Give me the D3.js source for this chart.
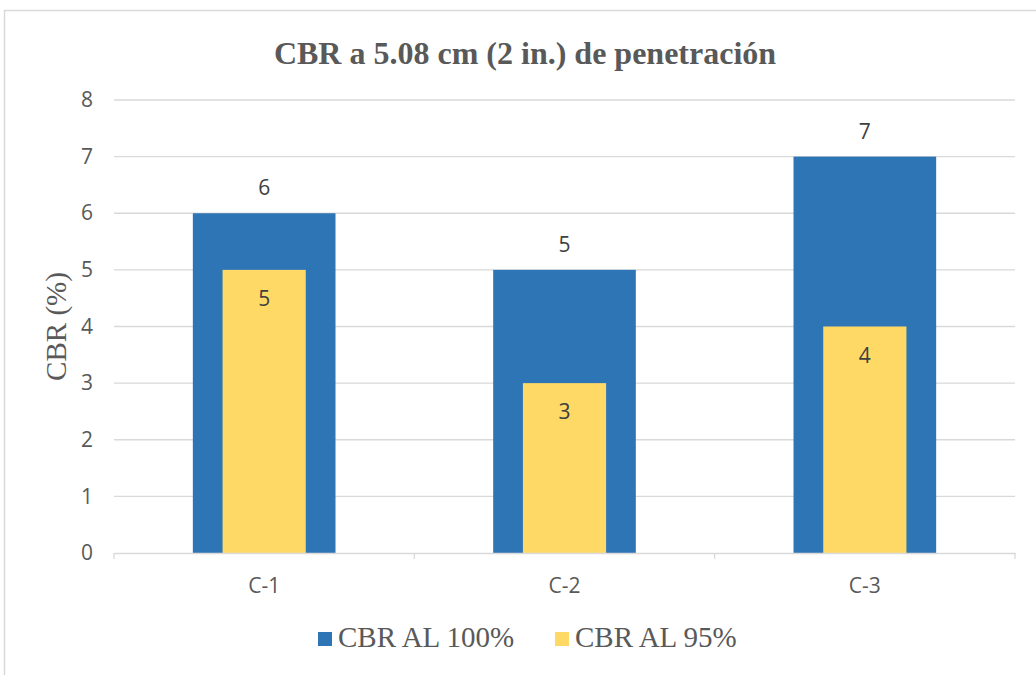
<!DOCTYPE html>
<html>
<head>
<meta charset="utf-8">
<script src="https://cdn.jsdelivr.net/npm/d3@7"></script>
<style>
  body { margin: 0; background: #fff; }
  svg { display: block; }
</style>
</head>
<body>
<svg id="chart"></svg>
<script>
const width = 1036;
const height = 675;

// data
const categories = ["C-1", "C-2", "C-3"];
const cbr100 = [6, 5, 7];
const cbr95 = [5, 3, 4];
const seriesNames = ["CBR AL 100%", "CBR AL 95%"];
const yTicks = [0, 1, 2, 3, 4, 5, 6, 7, 8];

const colors = ["#2E75B6", "#FFD966"];
const textColor = "#595959";
const sansFont = "'Open Sans', 'Liberation Sans', sans-serif";
const serifFont = "'Liberation Serif', 'Times New Roman', serif";

const margin = { left: 114, right: 1015, top: 100, bottom: 553 };

const svg = d3.select("#chart")
    .attr("width", width)
    .attr("height", height);

// chart frame
svg.append("rect")
    .attr("x", 4.5)
    .attr("y", 10.5)
    .attr("width", width + 10)
    .attr("height", height + 10)
    .attr("fill", "none")
    .attr("stroke", "#d9d9d9")
    .attr("stroke-width", 1.5);

const x = d3.scaleBand()
    .domain(categories)
    .range([margin.left, margin.right])
    .padding(0);

const y = d3.scaleLinear()
    .domain([0, 8])
    .range([margin.bottom, margin.top]);

// gridlines
svg.append("g")
    .selectAll("line")
    .data(yTicks.filter(d => d > 0))
    .enter()
    .append("line")
    .attr("x1", margin.left)
    .attr("x2", margin.right)
    .attr("y1", d => y(d))
    .attr("y2", d => y(d))
    .attr("stroke", "#d9d9d9")
    .attr("stroke-width", 1.3);

// y axis labels
const yAxis = d3.axisLeft(y).tickValues(yTicks).tickSize(0).tickPadding(0);
const gy = svg.append("g")
    .attr("transform", `translate(${margin.left - 21}, 0)`)
    .call(yAxis);
gy.select(".domain").remove();
gy.selectAll("text")
    .attr("font-family", sansFont)
    .attr("font-size", 21)
    .attr("fill", textColor);

// bars
const outerW = x.bandwidth() * 0.475;
const innerW = x.bandwidth() * 0.277;

svg.append("g")
    .selectAll("rect")
    .data(categories)
    .enter()
    .append("rect")
    .attr("x", d => x(d) + (x.bandwidth() - outerW) / 2)
    .attr("width", outerW)
    .attr("y", (d, i) => y(cbr100[i]))
    .attr("height", (d, i) => y(0) - y(cbr100[i]))
    .attr("fill", colors[0]);

svg.append("g")
    .selectAll("rect")
    .data(categories)
    .enter()
    .append("rect")
    .attr("x", d => x(d) + (x.bandwidth() - innerW) / 2)
    .attr("width", innerW)
    .attr("y", (d, i) => y(cbr95[i]))
    .attr("height", (d, i) => y(0) - y(cbr95[i]))
    .attr("fill", colors[1]);

// data labels
svg.append("g")
    .selectAll("text")
    .data(categories)
    .enter()
    .append("text")
    .attr("x", d => x(d) + x.bandwidth() / 2)
    .attr("y", (d, i) => y(cbr100[i]) - 18)
    .attr("text-anchor", "middle")
    .attr("font-family", sansFont)
    .attr("font-size", 21)
    .attr("fill", "#404040")
    .text((d, i) => cbr100[i]);

svg.append("g")
    .selectAll("text")
    .data(categories)
    .enter()
    .append("text")
    .attr("x", d => x(d) + x.bandwidth() / 2)
    .attr("y", (d, i) => y(cbr95[i]) + 36)
    .attr("text-anchor", "middle")
    .attr("font-family", sansFont)
    .attr("font-size", 21)
    .attr("fill", "#404040")
    .text((d, i) => cbr95[i]);

// x axis
const xAxis = d3.axisBottom(x).tickSize(0).tickPadding(25);
const gx = svg.append("g")
    .attr("transform", `translate(0, ${margin.bottom})`)
    .call(xAxis);
gx.select(".domain").attr("stroke", "#d9d9d9").attr("stroke-width", 1.3);
gx.selectAll("text")
    .attr("font-family", sansFont)
    .attr("font-size", 21)
    .attr("fill", textColor);

// category separators
const seps = categories.map(d => x(d)).concat([margin.right]);
gx.selectAll(".sep")
    .data(seps)
    .enter()
    .append("line")
    .attr("class", "sep")
    .attr("x1", d => d)
    .attr("x2", d => d)
    .attr("y1", 0)
    .attr("y2", 6)
    .attr("stroke", "#d9d9d9")
    .attr("stroke-width", 1.3);

// title
svg.append("text")
    .attr("x", 525)
    .attr("y", 64)
    .attr("text-anchor", "middle")
    .attr("font-family", serifFont)
    .attr("font-weight", "bold")
    .attr("font-size", 32)
    .attr("fill", textColor)
    .text("CBR a 5.08 cm (2 in.) de penetración");

// y axis title
svg.append("text")
    .attr("transform", "rotate(-90)")
    .attr("x", -(margin.top + margin.bottom) / 2)
    .attr("y", 66)
    .attr("text-anchor", "middle")
    .attr("font-family", serifFont)
    .attr("font-size", 29)
    .attr("fill", textColor)
    .text("CBR (%)");

// legend
const legendX = [318, 555];
const legend = svg.append("g")
    .selectAll("g")
    .data(seriesNames)
    .enter()
    .append("g")
    .attr("transform", (d, i) => `translate(${legendX[i]}, 632)`);

legend.append("rect")
    .attr("width", 14)
    .attr("height", 14)
    .attr("fill", (d, i) => colors[i]);

legend.append("text")
    .attr("x", 20)
    .attr("y", 15)
    .attr("font-family", serifFont)
    .attr("font-size", 29)
    .attr("fill", textColor)
    .text(d => d);
</script>
</body>
</html>
